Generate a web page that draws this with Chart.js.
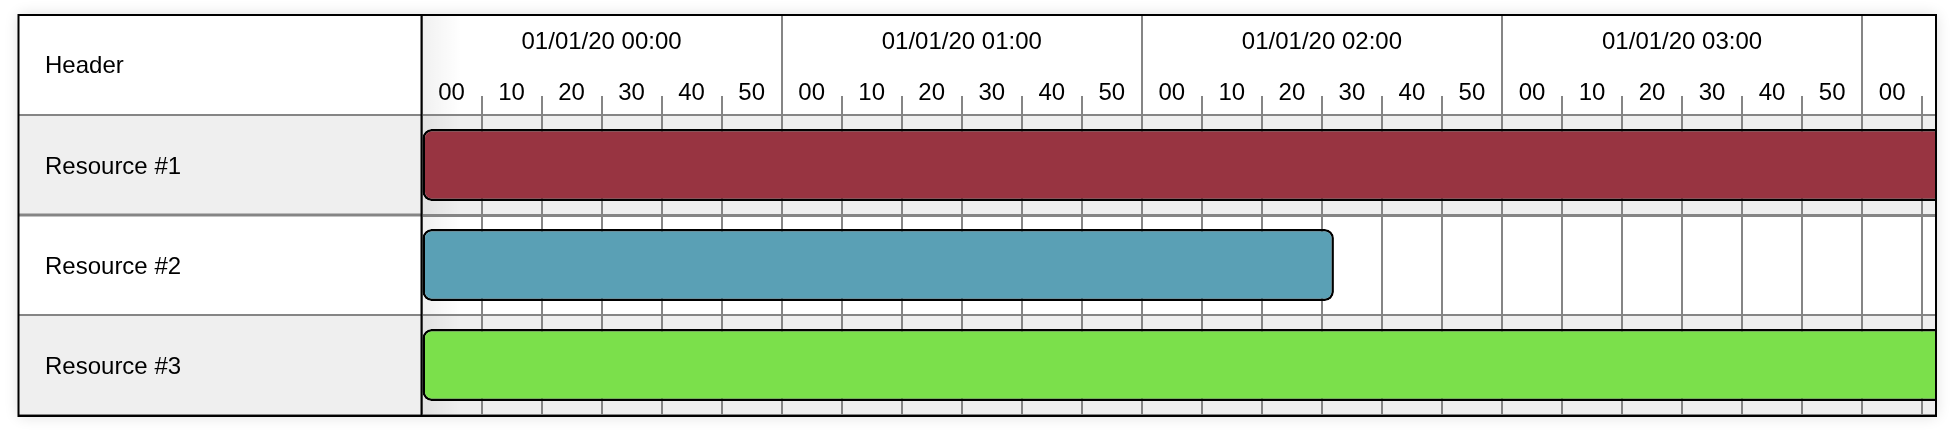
<!DOCTYPE html>
<html>
<head>
<meta charset="utf-8">
<script src="https://cdn.jsdelivr.net/npm/chart.js@4.4.1/dist/chart.umd.min.js"></script>
<style>
html,body{margin:0;padding:0;background:#fff;}
#wrap{position:relative;width:1954px;height:430px;}
</style>
</head>
<body>
<div id="wrap"><canvas id="c"></canvas></div>
<script>
// ---- data ----
const categories = ['Resource #1', 'Resource #2', 'Resource #3'];
const startMinutes = [0, 0, 0];
const endMinutes = [300, 152, 300];
const hourTicks = [0, 60, 120, 180, 240];
const hourTickLabels = ['01/01/20 00:00', '01/01/20 01:00', '01/01/20 02:00', '01/01/20 03:00', ''];
const minuteTicks = [0, 10, 20, 30, 40, 50, 60, 70, 80, 90, 100, 110, 120, 130, 140, 150, 160, 170, 180, 190, 200, 210, 220, 230, 240, 250];
const minuteTickLabels = ['00', '10', '20', '30', '40', '50', '00', '10', '20', '30', '40', '50', '00', '10', '20', '30', '40', '50', '00', '10', '20', '30', '40', '50', '00', ''];
const headerLabel = 'Header';
const axisMinMinutes = 0;
const axisMaxMinutes = 252.3;

// ---- styles ----
const barColors = ['#983441', '#5aa0b5', '#7be04b'];
const FONT = '"Liberation Sans", Arial, Helvetica, sans-serif';
const GRID = '#858585';
const ROW_GREY = '#efefef';
const rowLineWidths = [2, 3, 2, 2];

Chart.defaults.font.family = FONT;
Chart.defaults.font.size = 24;
Chart.defaults.color = '#000';

function noAutoPad(s) {
  s.paddingTop = 0; s.paddingBottom = 0; s.paddingLeft = 0; s.paddingRight = 0;
}

const tablePlugin = {
  id: 'tableChrome',
  beforeDraw(chart) {
    const {ctx, chartArea: ca, scales: {y}} = chart;
    const L = 18.5, T = 15, R = ca.right, B = ca.bottom + 1;
    ctx.save();
    ctx.shadowColor = 'rgba(0,0,0,0.14)';
    ctx.shadowBlur = 14;
    ctx.fillStyle = '#fff';
    ctx.fillRect(L, T, R - L, B - T);
    ctx.restore();
    ctx.save();
    ctx.fillStyle = ROW_GREY;
    categories.forEach((c, i) => {
      if (i % 2 === 0) {
        const t = y.getPixelForValue(i - 0.5), b = y.getPixelForValue(i + 0.5);
        ctx.fillRect(L, t, R - L, b - t);
      }
    });
    const g = ctx.createLinearGradient(ca.left, 0, ca.left + 40, 0);
    g.addColorStop(0, 'rgba(0,0,0,0.06)');
    g.addColorStop(1, 'rgba(0,0,0,0)');
    ctx.fillStyle = g;
    ctx.fillRect(ca.left, T, 40, B - T);
    ctx.restore();
  },
  afterDraw(chart) {
    const {ctx, chartArea: ca, scales: {x, y}} = chart;
    const L = 18.5, T = 15, R = ca.right, B = ca.bottom + 1;
    const divX = x.getPixelForValue(axisMinMinutes);
    ctx.save();
    ctx.strokeStyle = GRID;
    for (let i = 0; i <= categories.length; i++) {
      const py = y.getPixelForValue(i - 0.5);
      ctx.lineWidth = rowLineWidths[i];
      ctx.beginPath();
      ctx.moveTo(L, py);
      ctx.lineTo(divX, py);
      ctx.stroke();
    }
    ctx.strokeStyle = '#000';
    ctx.lineWidth = 2;
    ctx.beginPath();
    ctx.moveTo(divX, T);
    ctx.lineTo(divX, B);
    ctx.stroke();
    ctx.strokeRect(L, T, R - L, B - T);
    ctx.fillStyle = '#000';
    ctx.font = '24px ' + FONT;
    ctx.textBaseline = 'middle';
    ctx.textAlign = 'left';
    ctx.fillText(headerLabel, 45, 66.6);
    ctx.restore();
  }
};

new Chart(document.getElementById('c'), {
  type: 'bar',
  data: {
    labels: categories,
    datasets: [{
      data: categories.map((c, i) => [startMinutes[i], endMinutes[i]]),
      backgroundColor: barColors,
      borderColor: '#000',
      borderWidth: 2.5,
      borderRadius: 9,
      borderSkipped: false,
      categoryPercentage: 0.72,
      barPercentage: 1,
      clip: 0
    }]
  },
  plugins: [tablePlugin],
  options: {
    indexAxis: 'y',
    responsive: true,
    maintainAspectRatio: false,
    animation: false,
    events: [],
    layout: {padding: {left: 45, top: 15, right: 18, bottom: 15}, autoPadding: false},
    plugins: {legend: {display: false}, tooltip: {enabled: false}, title: {display: false}},
    scales: {
      y: {
        type: 'category',
        position: 'left',
        afterFit(s) { s.width = 376.5; noAutoPad(s); },
        border: {display: false},
        grid: {
          color: GRID,
          lineWidth: (ctx) => rowLineWidths[ctx.index] || 2,
          drawTicks: false
        },
        ticks: {crossAlign: 'far', color: '#000', font: {size: 24}, padding: 0, labelOffset: 1.9}
      },
      x: {
        type: 'linear',
        position: 'top',
        weight: 0,
        min: axisMinMinutes,
        max: axisMaxMinutes,
        afterFit(s) { s.height = 50; noAutoPad(s); },
        afterBuildTicks(s) { s.ticks = minuteTicks.map(v => ({value: v})); },
        border: {display: false},
        grid: {
          color: GRID,
          lineWidth: 2,
          tickLength: 50,
          tickWidth: 2,
          tickColor: GRID,
          tickBorderDash: (ctx) => (ctx.tick && ctx.tick.value % 60 === 0) ? [] : [0, 31, 19]
        },
        ticks: {
          autoSkip: false, maxRotation: 0, minRotation: 0,
          labelOffset: 30, padding: -42.3,
          color: '#000', font: {size: 24},
          callback: (v, i) => minuteTickLabels[i]
        }
      },
      x2: {
        type: 'linear',
        position: 'top',
        weight: 1,
        min: axisMinMinutes,
        max: axisMaxMinutes,
        afterFit(s) { s.height = 50; noAutoPad(s); },
        afterBuildTicks(s) { s.ticks = hourTicks.map(v => ({value: v})); },
        border: {display: false},
        grid: {
          drawOnChartArea: false,
          color: GRID,
          lineWidth: 2,
          tickLength: 50,
          tickWidth: 2,
          tickColor: GRID
        },
        ticks: {
          autoSkip: false, maxRotation: 0, minRotation: 0,
          labelOffset: 180.1, padding: -41.6,
          color: '#000', font: {size: 24},
          callback: (v, i) => hourTickLabels[i]
        }
      }
    }
  }
});
</script>
</body>
</html>
